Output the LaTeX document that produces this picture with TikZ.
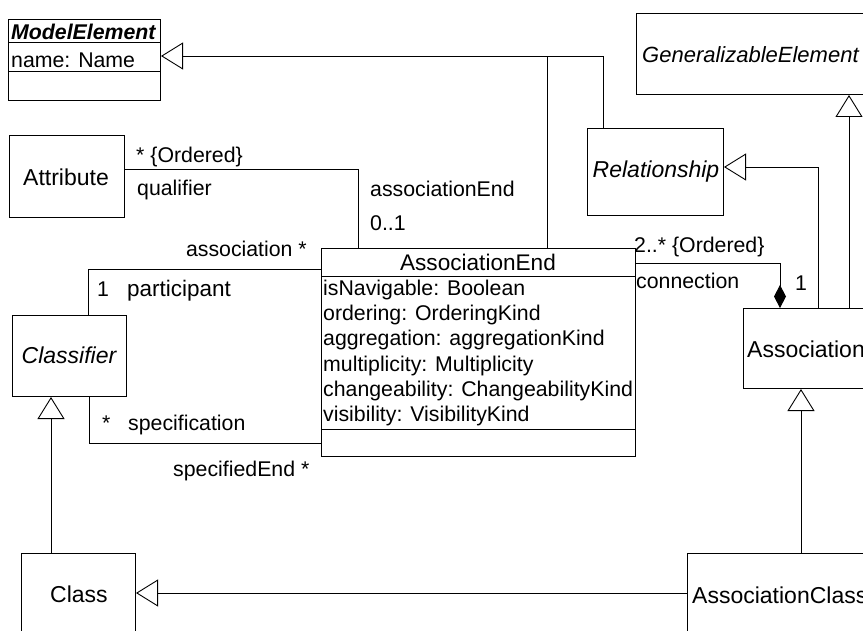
\documentclass[tikz,border=0pt]{standalone}
\usepackage{fontspec}
\setmainfont{Liberation Sans}
\usetikzlibrary{arrows.meta}
\newcommand\umlfont{\fontsize{21.3pt}{25pt}\selectfont}
\newcommand\namefont{\fontsize{23pt}{27pt}\selectfont}
\tikzset{
  umlbox/.style={draw, line width=1pt, fill=white, inner sep=0pt, anchor=north west},
  lbl/.style={inner sep=0pt, anchor=base west},
  ctr/.style={inner sep=0pt, anchor=base},
  cname/.style={inner sep=0pt, font=\namefont},
  conn/.style={line width=0.9pt},
  gen/.style={conn, -{Triangle[open, length=22pt, width=27pt, line width=0.9pt]}},
  comp/.style={conn, -{Diamond[length=23pt, width=12pt]}},
}
\begin{document}
\begin{tikzpicture}[x=1pt, y=-1pt, font=\umlfont]
\clip (0,0) rectangle (863,631);
\fill[white] (0,0) rectangle (863,631);

% ---------- classes ----------
\node[umlbox, minimum width=152pt, minimum height=81pt]  (me)   at (8,19)    {};
\node[umlbox, minimum width=264pt, minimum height=81pt]  (ge)   at (636,13)  {};
\node[umlbox, minimum width=136pt, minimum height=87pt]  (rel)  at (587,128) {};
\node[umlbox, minimum width=115pt, minimum height=82pt]  (attr) at (9,135)   {};
\node[umlbox, minimum width=314pt, minimum height=208pt] (ae)   at (321,248) {};
\node[umlbox, minimum width=114pt, minimum height=81pt]  (cls)  at (12,315)  {};
\node[umlbox, minimum width=220pt, minimum height=80pt]  (asn)  at (743,308) {};
\node[umlbox, minimum width=114pt, minimum height=100pt] (class) at (21,553) {};
\node[umlbox, minimum width=240pt, minimum height=100pt] (ac)   at (687,553) {};

% compartments
\draw[line width=1pt] ([yshift=-24pt]me.north west) -- ([yshift=-24pt]me.north east);
\draw[line width=1pt] ([yshift=-53pt]me.north west) -- ([yshift=-53pt]me.north east);
\draw[line width=1pt] ([yshift=-29pt]ae.north west) -- ([yshift=-29pt]ae.north east);
\draw[line width=1pt] ([yshift=28pt]ae.south west) -- ([yshift=28pt]ae.south east);

% class texts
\node[lbl, font=\umlfont\bfseries\itshape] at (11,40) {ModelElement};
\node[lbl] at (11,68) {name: Name};
\node[cname, anchor=base west, font=\fontsize{22pt}{26pt}\selectfont\itshape] at (642,63) {GeneralizableElement};
\node[cname, anchor=base, font=\namefont\itshape] at (656,178) {Relationship};
\node[cname, anchor=base] at (66,186) {Attribute};
\node[cname, anchor=base, font=\namefont\itshape] at (69,363) {Classifier};
\node[cname, anchor=base] at (79,602) {Class};
\node[cname, anchor=base west] at (747,357) {Association};
\node[cname, anchor=base west] at (692,603) {AssociationClass};
\node[cname, anchor=base, font=\fontsize{22.6pt}{27pt}\selectfont] at (478,271) {AssociationEnd};
\node[lbl] at (323,296) {isNavigable: Boolean};
\node[lbl] at (323,321) {ordering: OrderingKind};
\node[lbl] at (323,346) {aggregation: aggregationKind};
\node[lbl] at (323,371) {multiplicity: Multiplicity};
\node[lbl] at (323,396) {changeability: ChangeabilityKind};
\node[lbl] at (323,421) {visibility: VisibilityKind};

% ---------- connectors ----------
\coordinate (meIn) at ([yshift=-37pt]me.north east);
\coordinate (aeTop) at ([xshift=226pt]ae.north west);
\draw[gen] ([xshift=16pt]rel.north west) |- (meIn);
\draw[conn] (aeTop) -- (aeTop |- meIn);
\draw[gen] ([xshift=75pt]asn.north west) |- ([yshift=-39pt]rel.north east);
\draw[gen] ([xshift=106pt]asn.north west) -- ([xshift=213pt]ge.south west);
\draw[gen] ([xshift=114pt]ac.north west) -- ([xshift=58pt]asn.south west);
\draw[gen] ([yshift=-40pt]ac.north west) -- ([yshift=-40pt]class.north east);
\draw[gen] ([xshift=30pt]class.north west) -- ([xshift=39pt]cls.south west);
\draw[conn] ([yshift=7pt]attr.east) -| ([xshift=37pt]ae.north west);
\draw[conn] ([xshift=76pt]cls.north west) |- ([yshift=-21pt]ae.north west);
\draw[conn] ([xshift=77pt]cls.south west) |- ([yshift=14pt]ae.south west);
\draw[comp] ([yshift=-15pt]ae.north east) -| ([xshift=37pt]asn.north west);

% ---------- association end labels ----------
\node[lbl] at (136,163) {* \{Ordered\}};
\node[lbl] at (137,196) {qualifier};
\node[lbl] at (370,197) {associationEnd};
\node[lbl] at (370,231) {0..1};
\node[inner sep=0pt, anchor=base east] at (307,257) {association *};
\node[lbl] at (97,297) {1};
\node[lbl, font=\fontsize{22.5pt}{27pt}\selectfont] at (127,297) {participant};
\node[lbl] at (102,430) {*};
\node[lbl] at (128,430) {specification};
\node[lbl] at (173,476) {specifiedEnd *};
\node[lbl] at (634,253) {2..* \{Ordered\}};
\node[lbl] at (636,289) {connection};
\node[lbl] at (795,291) {1};
\end{tikzpicture}
\end{document}
